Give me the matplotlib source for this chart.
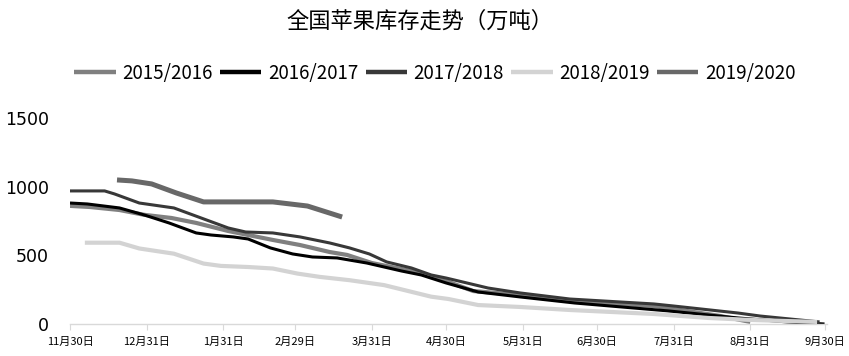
import pandas as pd
import matplotlib
matplotlib.use("Agg")
import matplotlib.pyplot as plt

plt.rcParams['font.family'] = ['Noto Sans CJK SC', 'DejaVu Sans']

# season runs 30 Nov -> 30 Sep, dates written as MM-DD
d_1516 = ["11-30", "12-08", "12-20", "12-30", "01-10", "01-20", "02-02", "02-10", "02-20",
          "03-02", "03-14", "03-21", "03-31", "04-20", "04-30", "05-11", "05-30", "06-19",
          "07-23", "08-19", "08-31"]
v_1516 = [860, 852, 830, 795, 772, 736, 677, 648, 612, 575, 524, 503, 444, 371, 313, 240,
          211, 168, 131, 58, 15]

d_1617 = ["11-30", "12-07", "12-20", "12-30", "01-09", "01-20", "01-26", "02-04", "02-10",
          "02-19", "02-28", "03-07", "03-17", "03-29", "04-12", "04-20", "04-30", "05-13",
          "05-30", "06-21", "07-29", "08-26", "09-15", "09-30"]
v_1617 = [881, 874, 845, 794, 736, 663, 648, 634, 619, 554, 510, 488, 481, 444, 386, 357,
          299, 233, 197, 153, 95, 44, 15, 0]

d_1718 = ["11-30", "12-14", "12-18", "12-28", "01-11", "01-22", "02-02", "02-09", "02-20",
          "03-02", "03-14", "03-22", "03-30", "04-06", "04-16", "04-24", "04-30", "05-17",
          "05-30", "06-19", "07-23", "07-31", "08-26", "09-04", "09-28"]
v_1718 = [969, 969, 947, 881, 845, 772, 699, 670, 663, 634, 590, 554, 510, 452, 408, 357,
          335, 262, 226, 182, 146, 131, 80, 58, 15]

d_1819 = ["12-06", "12-20", "12-28", "01-11", "01-23", "01-30", "02-10", "02-20", "03-01",
          "03-10", "03-22", "04-05", "04-24", "05-01", "05-13", "05-30", "06-19", "07-23",
          "08-14", "09-01", "09-27"]
v_1819 = [592, 592, 550, 512, 440, 423, 415, 404, 367, 343, 319, 283, 199, 182, 138, 124,
          102, 73, 44, 29, 15]

d_1920 = ["12-19", "12-25", "01-02", "01-12", "01-23", "02-20", "03-05", "03-19"]
v_1920 = [1049, 1042, 1020, 954, 889, 889, 859, 779]

seasons = ["2015/2016", "2016/2017", "2017/2018", "2018/2019", "2019/2020"]
colors = ["#808080", "#000000", "#383838", "#d3d3d3", "#686868"]
widths = [3.0, 2.2, 2.2, 3.0, 3.6]

tick_dates = ["11-30", "12-31", "01-31", "02-29", "03-31", "04-30", "05-31", "06-30",
              "07-31", "08-31", "09-30"]
tick_labels = ["11月30日", "12月31日", "1月31日", "2月29日", "3月31日", "4月30日",
               "5月31日", "6月30日", "7月31日", "8月31日", "9月30日"]


def to_date(days):
    # Nov/Dec belong to 2019, the rest to 2020 (leap year, so 2月29日 exists)
    return pd.to_datetime([("2019-" if d[:2] in ("11", "12") else "2020-") + d for d in days])


fig = plt.figure(figsize=(8.49, 3.56), dpi=100)
ax = fig.add_axes([70 / 849, 32 / 356, 757 / 849, 206 / 356])

series = [(d_1516, v_1516), (d_1617, v_1617), (d_1718, v_1718), (d_1819, v_1819), (d_1920, v_1920)]
handles = []
for (days, vals), name, c, lw in zip(series, seasons, colors, widths):
    h, = ax.plot(to_date(days), vals, color=c, lw=lw, label=name,
                 solid_joinstyle='round', solid_capstyle='butt')
    handles.append(h)

ax.set_xlim(pd.Timestamp("2019-11-30"), pd.Timestamp("2020-10-01"))
ax.set_ylim(0, 1500)
ax.set_yticks([0, 500, 1000, 1500])
ax.set_xticks(to_date(tick_dates))
ax.set_xticklabels(tick_labels, fontsize=8)
for lbl in ax.get_yticklabels():
    lbl.set_fontfamily('DejaVu Sans')
    lbl.set_fontsize(12.5)

for s in ["top", "right", "left"]:
    ax.spines[s].set_visible(False)
ax.spines["bottom"].set_color("#d9d9d9")
ax.spines["bottom"].set_linewidth(1.0)
ax.tick_params(axis='x', length=4, color="#d9d9d9", pad=5)
ax.tick_params(axis='y', length=0, pad=15)

fig.text(420 / 849, 1 - 21 / 356, "全国苹果库存走势（万吨）", ha='center', va='center', fontsize=16)

leg = fig.legend(handles=handles, loc='center', bbox_to_anchor=(435 / 849, 1 - 73 / 356),
                 ncol=5, frameon=False, fontsize=13.5, handlelength=2.2,
                 handletextpad=0.35, columnspacing=0.4)
for line in leg.get_lines():
    line.set_linewidth(3.2)

fig.savefig("out.png", dpi=100)
